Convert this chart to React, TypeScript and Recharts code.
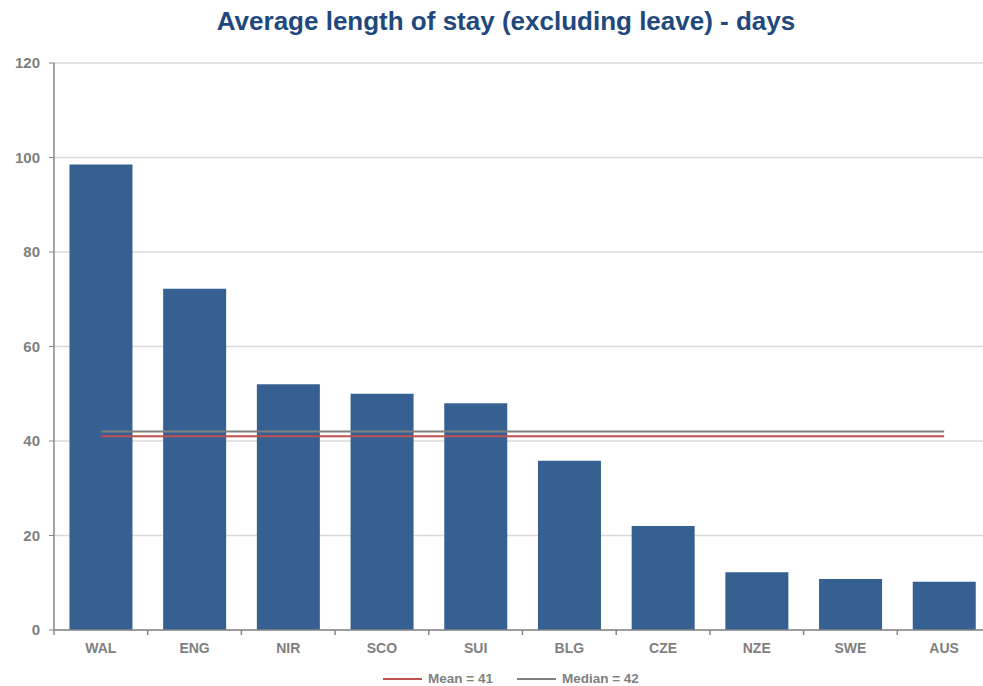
import {
  ComposedChart,
  Bar,
  Line,
  CartesianGrid,
  XAxis,
  YAxis,
} from "recharts";

const countries = ["WAL", "ENG", "NIR", "SCO", "SUI", "BLG", "CZE", "NZE", "SWE", "AUS"];
const stayDays = [98.5, 72.2, 52, 50, 48, 35.8, 22, 12.2, 10.8, 10.2];
const meanValue = 41;
const medianValue = 42;
const yTicks = [0, 20, 40, 60, 80, 100, 120];

const data = countries.map((c, i) => ({
  name: c,
  days: stayDays[i],
  mean: meanValue,
  median: medianValue,
}));

const FONT = "'Liberation Sans', Arial, sans-serif";
const GREY = "#7f7f7f";
const AXIS = "#868686";

// category label plus a small tick mark on the left edge of each band
const XTick = (props: any) => {
  const { x, y, payload } = props;
  const half = 93.7 / 2;
  return (
    <g>
      <line x1={x - half} x2={x - half} y1={630} y2={635} stroke={AXIS} strokeWidth={1.5} />
      <text
        x={x}
        y={y + 17}
        textAnchor="middle"
        fill={GREY}
        fontSize={14}
        fontWeight="bold"
        fontFamily={FONT}
      >
        {payload.value}
      </text>
    </g>
  );
};

// legend is plain html so it doesn't eat into the plot area
const LegendRow = () => (
  <div
    style={{
      position: "absolute",
      top: 671,
      left: 383,
      display: "flex",
      alignItems: "center",
      fontFamily: FONT,
      fontSize: 13.5,
      fontWeight: "bold",
      color: GREY,
    }}
  >
    <div style={{ width: 39, height: 2, background: "#c0504d", marginRight: 6 }} />
    <span style={{ marginRight: 24 }}>Mean = {meanValue}</span>
    <div style={{ width: 39, height: 2, background: "#808080", marginRight: 6 }} />
    <span>Median = {medianValue}</span>
  </div>
);

export default function App() {
  return (
    <div
      style={{
        position: "absolute",
        left: 0,
        top: 0,
        width: 983,
        height: 686,
        overflow: "hidden",
        background: "#fff",
      }}
    >
      <div
        style={{
          position: "absolute",
          top: 6,
          left: 10,
          width: 992,
          textAlign: "center",
          fontFamily: FONT,
          fontSize: 26,
          fontWeight: "bold",
          color: "#1f497d",
        }}
      >
        Average length of stay (excluding leave) - days
      </div>
      <div style={{ position: "absolute", left: 0, top: 0 }}>
        <ComposedChart
          width={992}
          height={686}
          data={data}
          margin={{ top: 63, right: 1, bottom: 0, left: 0 }}
          barCategoryGap="16.5%"
        >
          <CartesianGrid vertical={false} stroke="#d9d9d9" strokeWidth={1.5} />
          <XAxis
            dataKey="name"
            height={56}
            tickLine={false}
            tickMargin={0}
            axisLine={{ stroke: AXIS, strokeWidth: 1.5 }}
            tick={<XTick />}
          />
          <YAxis
            width={54}
            domain={[0, 120]}
            ticks={yTicks}
            interval={0}
            tickSize={5}
            tickMargin={9}
            axisLine={{ stroke: AXIS, strokeWidth: 1.5 }}
            tickLine={{ stroke: AXIS }}
            tick={{ fill: GREY, fontSize: 15, fontWeight: "bold", fontFamily: FONT }}
          />
          <Bar dataKey="days" fill="#366092" isAnimationActive={false} />
          <Line
            dataKey="median"
            stroke="#808080"
            strokeWidth={2}
            dot={false}
            isAnimationActive={false}
          />
          <Line
            dataKey="mean"
            stroke="#c0504d"
            strokeWidth={2}
            dot={false}
            isAnimationActive={false}
          />
        </ComposedChart>
      </div>
      <LegendRow />
    </div>
  );
}
